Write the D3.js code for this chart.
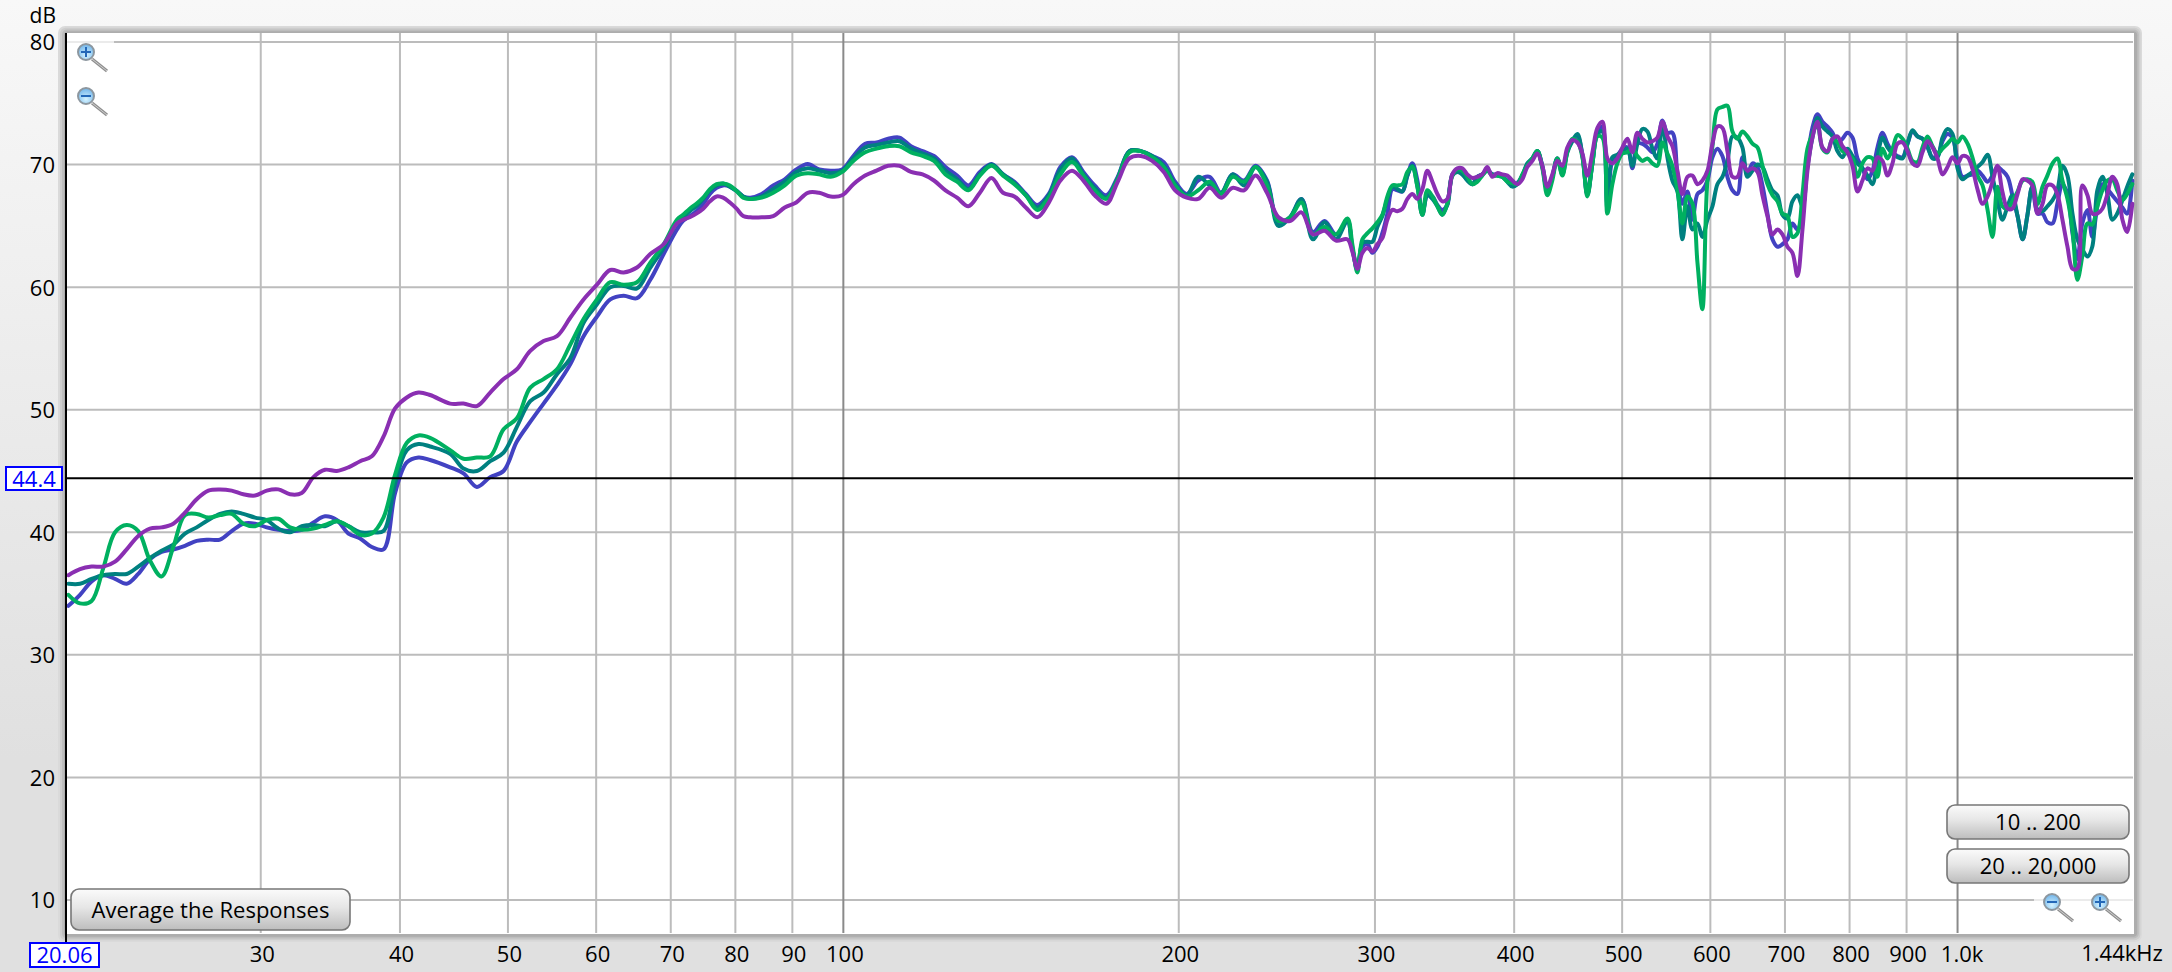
<!DOCTYPE html>
<html>
<head>
<meta charset="utf-8">
<script src="https://cdn.jsdelivr.net/npm/d3@7"></script>
<style>
html,body{margin:0;padding:0;background:#e0e0e0;overflow:hidden}
svg{display:block}
text{font-family:"Open Sans",sans-serif;fill:#000}
</style>
</head>
<body>
<svg id="chart" width="2172" height="972"></svg>
<script>
const freqHz = [
20.16,20.65,21.15,21.67,22.20,22.74,23.29,23.86,24.44,25.04,25.65,26.28,26.92,27.58,28.25,28.94,29.65,30.37,31.11,31.87,32.65,33.45,34.26,35.10,35.96,36.84,37.74,38.66,39.60,40.57,41.56,42.57,44.37,
45.61,46.89,48.20,49.55,50.93,52.36,53.82,55.33,56.87,58.46,60.10,61.78,63.50,65.28,67.10,68.98,70.90,
71.8,72.8,73.8,74.85,75.9,76.95,78.0,79.1,80.2,81.3,
82.5,84.48,86.51,88.59,90.72,92.9,95.13,97.41,99.75,102.1,104.6,107.1,109.7,112.3,115.0,117.8,120.6,123.5,126.5,129.5,132.6,135.8,139.1,142.4,145.8,149.3,152.9,156.6,160.4,164.2,168.1,172.2,176.3,180.6,184.9,189.3,193.9,198.5,203.3,208.2,213.2,218.3,223.5,228.9,234.4,240.0,245.8,251.7,257.7,263.9,270.3,276.8,283.4,
286.3,289.3,292.3,295.4,298.4,301.5,304.6,307.8,311.0,314.2,317.5,320.8,324.1,327.5,330.9,334.3,337.8,341.3,344.8,348.4,352.0,355.7,359.4,363.1,366.9,370.7,374.5,378.4,382.3,386.3,390.3,394.4,398.5,402.6,406.8,411.0,415.3,419.6,424.0,428.4,432.8,437.3,441.9,446.5,451.1,455.8,460.6,465.3,470.2,475.1,480.0,485.0,490.0,495.1,500.3,505.5,510.7,516.0,521.4,526.8,532.3,537.8,543.4,549.0,554.7,560.5,566.3,572.2,578.2,584.2,590.2,596.4,602.6,608.8,615.1,621.5,628.0,634.5,641.1,647.8,
654.5,661.3,668.2,675.1,682.1,689.2,696.4,703.6,710.9,718.3,725.8,733.3,740.9,748.6,756.4,764.3,772.2,780.2,788.3,796.5,804.8,813.2,821.6,830.2,838.8,847.5,856.3,865.2,874.2,883.3,892.5,901.7,911.1,920.6,930.1,939.8,949.6,959.4,969.4,979.5,989.6,999.9,1010,1021,1031,1042,1053,1064,1075,1086,1097,1109,1120,1132,1144,1155,1167,1180,1192,1204,1217,1229,1242,1255,1268,1281,1294,1308,1321,1335,1349,1363,1377,1391,1406,1420,1435];

const blueDb = [
34.0,34.9,36.0,36.5,36.2,35.8,36.6,37.8,38.4,38.6,38.9,39.3,39.4,39.4,40.1,40.7,40.7,40.4,40.2,40.1,40.2,40.8,41.3,41.0,39.9,39.5,38.8,38.6,43.2,45.7,46.1,45.9,45.3,
44.8,43.7,44.5,45.0,47.4,49.0,50.5,52.0,53.7,56.0,57.6,59.0,59.3,59.1,60.6,62.7,64.7,
65.4,65.8,66.2,66.8,67.6,68.1,68.3,68.2,67.85,67.4,
67.3,67.6,68.3,68.8,69.6,70.05,69.6,69.5,69.6,70.7,71.7,71.8,72.1,72.2,71.5,71.1,70.7,69.8,69.1,68.3,69.4,70.05,69.2,68.6,67.6,66.7,67.6,69.8,70.6,69.4,68.3,67.5,69.0,71.1,71.1,70.7,70.2,68.6,67.6,68.7,69.0,67.7,69.2,68.7,69.9,68.7,65.3,65.7,67.2,64.5,65.4,64.3,65.4,
63.1,61.7,63.3,63.5,62.8,63.3,64.4,66.0,68.0,67.9,67.8,69.1,70.1,68.7,66.0,67.5,67.4,66.7,66.3,66.7,69.2,69.5,69.2,68.8,68.4,69.0,69.2,69.6,69.2,69.2,69.0,68.7,68.3,68.5,69.1,70.0,70.5,71.1,69.8,67.9,69.0,70.5,69.4,71.1,72.0,72.3,70.8,67.5,70.1,72.6,73.1,66.8,70.3,70.7,71.3,71.4,69.7,71.7,71.7,71.4,71.0,71.7,73.6,72.6,72.6,69.2,66.8,67.8,65.5,67.6,67.9,68.7,70.6,71.3,70.7,69.0,67.9,67.6,70.6,69.2,
70.1,69.8,68.3,66.0,63.9,63.3,63.5,63.9,65.2,64.7,66.0,70.3,73.0,74.1,73.5,73.1,72.6,71.8,72.1,72.6,72.2,70.5,69.7,68.8,69.5,71.4,72.6,71.7,71.0,70.7,70.6,71.7,72.7,72.3,72.1,71.4,70.6,70.7,71.9,72.5,72.2,70.3,69.0,69.1,69.2,69.5,69.1,68.6,69.1,69.8,69.5,69.0,67.5,65.8,63.9,65.8,68.2,66.0,66.0,65.3,65.2,66.8,68.4,67.6,64.4,62.3,65.2,66.3,64.1,66.6,68.4,68.0,67.5,67.0,66.5,66.0,68.7];

const tealDb = [
35.8,35.8,36.2,36.5,36.6,36.6,37.2,37.9,38.5,39.0,39.9,40.4,41.0,41.5,41.7,41.5,41.2,41.0,40.3,40.0,40.5,40.6,40.5,40.9,40.5,40.0,40.0,40.1,44.0,46.7,47.2,47.0,46.4,
45.2,45.0,45.8,46.5,48.6,50.7,51.4,52.9,54.2,57.1,58.6,60.0,60.1,59.9,61.6,63.2,65.3,
65.7,66.2,66.6,67.2,67.9,68.3,68.45,68.2,67.85,67.4,
67.2,67.4,68.0,68.6,69.4,69.7,69.5,69.3,69.5,70.5,71.4,71.6,71.8,71.9,71.3,70.9,70.5,69.5,68.8,68.0,69.2,70.0,69.2,68.5,67.5,66.5,67.5,69.6,70.5,69.2,68.1,67.3,68.9,71.1,71.1,70.7,69.9,68.4,67.5,69.0,68.3,67.7,69.2,68.3,69.8,68.6,65.0,65.7,67.2,63.9,65.3,63.9,65.4,
63.2,61.4,63.6,63.7,63.7,64.9,65.8,67.2,68.2,68.0,67.8,69.1,69.9,68.2,65.9,67.5,67.2,66.6,65.9,66.8,69.1,69.4,69.2,68.7,68.4,69.0,69.2,69.5,69.2,69.1,69.0,68.6,68.2,68.4,69.1,70.1,70.5,71.1,69.9,67.9,69.0,70.5,69.2,71.0,71.9,72.5,70.7,67.6,70.1,72.5,72.7,66.4,70.6,70.8,71.1,71.3,69.9,71.7,72.9,72.7,71.3,70.5,73.3,70.6,68.7,67.8,63.9,66.6,64.7,65.2,64.1,65.5,66.6,68.4,69.0,70.3,72.3,72.2,71.4,69.0,
69.5,70.0,69.8,68.8,67.9,67.5,65.9,65.6,67.0,67.5,66.6,69.8,72.2,73.8,73.1,72.7,72.3,71.1,70.6,71.3,70.7,70.1,69.7,69.1,68.4,70.6,72.2,71.4,70.9,70.6,70.5,71.7,72.8,72.3,72.1,71.5,70.5,70.6,72.2,72.9,72.5,69.7,68.8,69.1,69.4,69.8,70.2,70.8,69.0,67.1,65.5,66.6,67.5,65.8,63.9,65.8,68.2,66.3,66.2,66.6,67.1,67.9,69.9,69.1,66.0,63.9,63.1,62.5,63.3,67.9,69.0,67.6,65.5,66.0,67.1,68.2,69.2];

const greenDb = [
34.9,34.2,34.4,37.1,40.0,40.6,40.1,37.7,36.4,38.8,41.4,41.5,41.2,41.4,41.5,40.7,40.5,41.0,41.1,40.4,40.2,40.3,40.6,40.9,40.5,39.8,39.9,41.2,44.7,47.3,47.9,47.7,46.7,
46.0,46.1,46.2,48.4,49.3,51.8,52.5,53.3,55.3,57.4,59.0,60.4,60.2,60.4,62.0,63.5,65.5,
65.9,66.4,66.8,67.3,68.0,68.4,68.45,68.3,67.85,67.3,
67.2,67.3,67.7,68.3,69.1,69.3,69.2,69.0,69.4,70.3,71.0,71.3,71.5,71.5,71.0,70.7,70.3,69.2,68.6,67.9,69.1,69.9,69.1,68.4,67.5,66.3,67.3,69.2,70.2,69.1,67.9,67.2,68.8,71.0,71.1,70.6,69.8,68.3,67.4,67.9,68.6,67.6,69.0,68.6,69.8,68.3,65.4,65.7,66.9,64.3,64.9,64.3,65.6,
63.5,61.2,63.9,64.4,64.8,65.3,65.9,67.4,68.3,68.3,68.4,69.4,69.8,68.2,65.9,67.9,67.4,66.6,65.9,66.8,69.1,69.6,69.5,69.0,68.4,68.6,69.1,69.5,69.1,69.1,69.0,68.6,68.5,68.4,69.2,69.9,70.5,71.1,69.7,67.5,68.7,70.5,69.1,71.1,72.1,71.9,70.6,67.4,70.1,72.3,72.2,66.0,68.4,70.1,70.9,71.0,71.3,70.7,70.3,70.5,70.1,69.9,71.8,70.9,69.9,68.0,65.2,67.4,66.8,62.0,58.2,68.7,71.5,74.5,74.7,74.8,72.7,72.1,72.7,72.3,
71.7,71.4,69.9,68.4,67.5,67.0,66.0,65.8,64.1,64.4,67.6,71.3,72.5,73.3,71.3,71.0,72.1,71.8,71.1,70.9,70.5,69.0,70.1,70.6,70.5,69.0,71.3,70.5,71.3,72.4,72.1,71.3,70.3,70.2,71.4,72.3,71.5,70.9,71.3,71.7,72.1,71.8,72.3,71.7,70.6,69.1,68.3,66.3,64.1,68.2,66.6,66.4,67.0,67.8,68.7,68.8,68.6,66.8,68.2,69.1,70.1,70.5,68.7,67.2,64.7,60.6,62.5,65.2,65.1,66.6,67.9,68.7,68.8,67.9,67.1,67.6,68.4];

const purpleDb = [
36.5,37.0,37.2,37.2,37.6,38.6,39.7,40.3,40.4,40.7,41.6,42.7,43.4,43.5,43.4,43.1,43.0,43.4,43.5,43.1,43.2,44.5,45.1,45.0,45.3,45.8,46.2,47.8,50.1,51.0,51.4,51.2,50.5,
50.5,50.3,51.4,52.5,53.3,54.8,55.6,56.0,57.5,59.0,60.2,61.4,61.2,61.6,62.7,63.5,65.2,
65.5,65.7,66.0,66.4,67.0,67.4,67.3,66.9,66.4,65.8,
65.7,65.7,65.8,66.5,66.9,67.7,67.7,67.4,67.5,68.4,69.1,69.5,69.9,69.9,69.4,69.2,68.7,67.9,67.3,66.6,67.7,68.9,67.7,67.4,66.5,65.7,66.9,68.7,69.5,68.7,67.5,66.8,68.6,70.5,70.7,70.3,69.4,67.9,67.3,67.2,68.1,67.3,68.1,67.9,69.1,67.7,65.7,65.4,66.1,64.3,64.6,63.8,63.9,
62.9,61.5,62.8,63.2,62.9,63.5,64.0,65.5,66.3,66.2,66.4,67.2,67.6,67.2,68.0,69.5,68.6,67.6,67.0,67.2,69.2,69.7,69.7,69.2,68.9,69.0,69.2,69.8,69.0,69.3,69.2,69.1,68.7,68.4,68.8,69.8,70.3,70.9,69.9,68.2,69.2,70.3,69.9,71.4,72.0,71.8,70.9,69.1,71.0,73.0,73.5,70.5,70.1,70.5,71.4,72.1,71.0,72.6,72.1,71.8,71.9,72.2,73.5,72.3,71.5,69.5,67.6,69.0,69.1,68.4,68.7,69.5,71.7,73.1,73.0,71.1,69.0,69.0,70.1,69.5,
69.7,69.4,67.5,65.8,64.3,64.7,64.3,63.3,62.8,60.9,64.7,69.5,72.2,73.5,71.4,71.1,72.1,72.3,71.5,71.0,69.9,67.8,68.7,69.7,69.5,70.6,70.3,69.1,70.1,71.7,71.8,71.1,70.1,69.9,71.0,71.9,71.4,70.5,69.2,69.8,70.6,70.1,70.7,70.6,69.7,68.0,66.8,67.4,68.6,69.9,67.8,66.4,66.4,67.6,68.8,68.7,68.3,66.0,66.8,68.3,68.3,67.6,65.5,63.3,61.5,61.5,68.3,67.5,66.0,66.0,66.4,67.6,69.0,68.4,65.5,64.5,66.8];

const seriesNames = ["blue","teal","green","purple"];
const seriesValues = [blueDb,tealDb,greenDb,purpleDb];
const seriesColors = ["#4242c2","#008080","#00b060","#8a2fb2"];
const dbTicks = [10,20,30,40,50,60,70,80];
const freqTicks = [30,40,50,60,70,80,90,100,200,300,400,500,600,700,800,900,1000];
const majorFreqs = [100,1000];
const freqTickLabels = {1000:"1.0k"};
const cursorDb = 44.4;
const cursorLabel = "44.4";
const startLabel = "20.06";
const endLabel = "1.44kHz";
const unitLabel = "dB";
const fontName = "Open Sans";

seriesValues.forEach((v,i)=>{
  if(v.length!==freqHz.length) throw new Error(seriesNames[i]+" length "+v.length+" vs "+freqHz.length);
});

const svg = d3.select("#chart");
const defs = svg.append("defs");
const bg = defs.append("linearGradient").attr("id","pageBg").attr("x1",0).attr("x2",0).attr("y1",0).attr("y2",1);
bg.append("stop").attr("offset",0).attr("stop-color","#f8f8f8");
bg.append("stop").attr("offset",0.78).attr("stop-color","#e0e0e0");
bg.append("stop").attr("offset",1).attr("stop-color","#e0e0e0");
const btn = defs.append("linearGradient").attr("id","btnBg").attr("x1",0).attr("x2",0).attr("y1",0).attr("y2",1);
btn.append("stop").attr("offset",0).attr("stop-color","#fbfbfb");
btn.append("stop").attr("offset",0.45).attr("stop-color","#e6e6e6");
btn.append("stop").attr("offset",1).attr("stop-color","#bdbdbd");
const lens = defs.append("radialGradient").attr("id","lensBg").attr("cx",0.5).attr("cy",0.7).attr("r",0.7);
lens.append("stop").attr("offset",0).attr("stop-color","#d4f2ff");
lens.append("stop").attr("offset",1).attr("stop-color","#6fb4ea");

svg.append("rect").attr("width",2172).attr("height",972).attr("fill","url(#pageBg)");

// frame
const frameShades = ["#dadada","#cdcdcd","#bdbdbd","#adadad"];
frameShades.forEach((c,i)=>{
  svg.append("rect").attr("x",58+i*2).attr("y",26+i*1.75).attr("width",2084-i*3.6).attr("height",916-i*3.5).attr("rx",7-i).attr("fill",c);
});
svg.append("rect").attr("x",67).attr("y",33).attr("width",2067).attr("height",901).attr("fill","#fff");

const x = d3.scaleLog().domain([20.06,1440]).range([66,2134]);
const y = d3.scaleLinear().domain([80,10]).range([42,900]);

// grid
const grid = svg.append("g");
grid.selectAll("line.h").data(dbTicks).join("line").attr("class","h")
  .attr("x1",67).attr("x2",2133).attr("y1",d=>y(d)).attr("y2",d=>y(d))
  .attr("stroke","#bcbcbc").attr("stroke-width",2);
grid.selectAll("line.v").data(freqTicks).join("line").attr("class","v")
  .attr("x1",d=>x(d)).attr("x2",d=>x(d)).attr("y1",33).attr("y2",933)
  .attr("stroke",d=>majorFreqs.includes(d)?"#8a8a8a":"#bcbcbc").attr("stroke-width",2);

// fade behind zoom icons
svg.append("rect").attr("x",67).attr("y",41).attr("width",47).attr("height",2).attr("fill","#fff").attr("opacity",0.7);
svg.append("rect").attr("x",2034).attr("y",899).attr("width",99).attr("height",2).attr("fill","#fff").attr("opacity",0.7);

// curves
const line = d3.line().x((d,i)=>x(freqHz[i])).y(d=>y(d)).curve(d3.curveCatmullRom.alpha(0.5));
svg.append("g").attr("fill","none").attr("stroke-width",4).attr("stroke-linejoin","round").attr("stroke-linecap","round")
  .selectAll("path").data(seriesValues).join("path")
  .attr("d",line).attr("stroke",(d,i)=>seriesColors[i]);

// cursor line and left edge
svg.append("line").attr("x1",67).attr("x2",2133).attr("y1",y(cursorDb)).attr("y2",y(cursorDb)).attr("stroke","#000").attr("stroke-width",2);
svg.append("rect").attr("x",65).attr("y",33).attr("width",2).attr("height",909).attr("fill","#000");

// axes
const yAxis = d3.axisLeft(y).tickValues(dbTicks).tickSize(0).tickPadding(0);
const yG = svg.append("g").attr("transform","translate(55,0)").call(yAxis);
yG.select(".domain").remove();
yG.selectAll("text").attr("font-size",22).attr("font-family",fontName).attr("fill","#000").attr("dy","0.36em");

const xAxis = d3.axisBottom(x).tickValues(freqTicks).tickSize(0).tickPadding(0)
  .tickFormat(d=>freqTickLabels[d]||String(d));
const xG = svg.append("g").attr("transform","translate(1,943)").call(xAxis);
xG.select(".domain").remove();
xG.selectAll("text").attr("font-size",22).attr("font-family",fontName).attr("fill","#000").attr("dy","0.85em")
  .attr("dx",d=>d===1000?3:0);

svg.append("text").attr("x",56).attr("y",23).attr("text-anchor","end").attr("font-size",21).text(unitLabel);
svg.append("text").attr("x",2122).attr("y",961).attr("text-anchor","middle").attr("font-size",22).text(endLabel);

// value boxes
function valueBox(bx,by,w,h,t){
  svg.append("rect").attr("x",bx).attr("y",by).attr("width",w).attr("height",h).attr("fill","#fff").attr("stroke","#0000ff").attr("stroke-width",2);
  svg.append("text").attr("x",bx+w/2).attr("y",by+h/2+8).attr("text-anchor","middle").attr("font-size",22).style("fill","#0000ff").text(t);
}
valueBox(6,467,56,23,cursorLabel);
valueBox(30,943,69,24,startLabel);

// buttons
function button(bx,by,w,h,t){
  svg.append("rect").attr("x",bx).attr("y",by).attr("width",w).attr("height",h).attr("rx",8).attr("fill","url(#btnBg)").attr("stroke","#777").attr("stroke-width",1.6);
  svg.append("text").attr("x",bx+w/2).attr("y",by+h/2+8).attr("text-anchor","middle").attr("font-size",22).text(t);
}
button(71,889,279,41,"Average the Responses");
button(1947,805,182,34,"10 .. 200");
button(1947,849,182,34,"20 .. 20,000");

// magnifier icons
function magnifier(cx,cy,plus){
  const g = svg.append("g");
  g.append("line").attr("x1",cx+6).attr("y1",cy+7).attr("x2",cx+21).attr("y2",cy+19).attr("stroke","#8f8f8f").attr("stroke-width",3.2);
  g.append("line").attr("x1",cx+6).attr("y1",cy+7).attr("x2",cx+21).attr("y2",cy+19).attr("stroke","#d0d0d0").attr("stroke-width",1);
  g.append("circle").attr("cx",cx).attr("cy",cy).attr("r",8).attr("fill","url(#lensBg)").attr("stroke","#8d979f").attr("stroke-width",2);
  g.append("line").attr("x1",cx-5).attr("x2",cx+5).attr("y1",cy).attr("y2",cy).attr("stroke","#2468b8").attr("stroke-width",2);
  if(plus) g.append("line").attr("x1",cx).attr("x2",cx).attr("y1",cy-5).attr("y2",cy+5).attr("stroke","#2468b8").attr("stroke-width",2);
}
magnifier(86,52,true);
magnifier(86,96,false);
magnifier(2052,902,false);
magnifier(2100,902,true);
</script>
</body>
</html>
